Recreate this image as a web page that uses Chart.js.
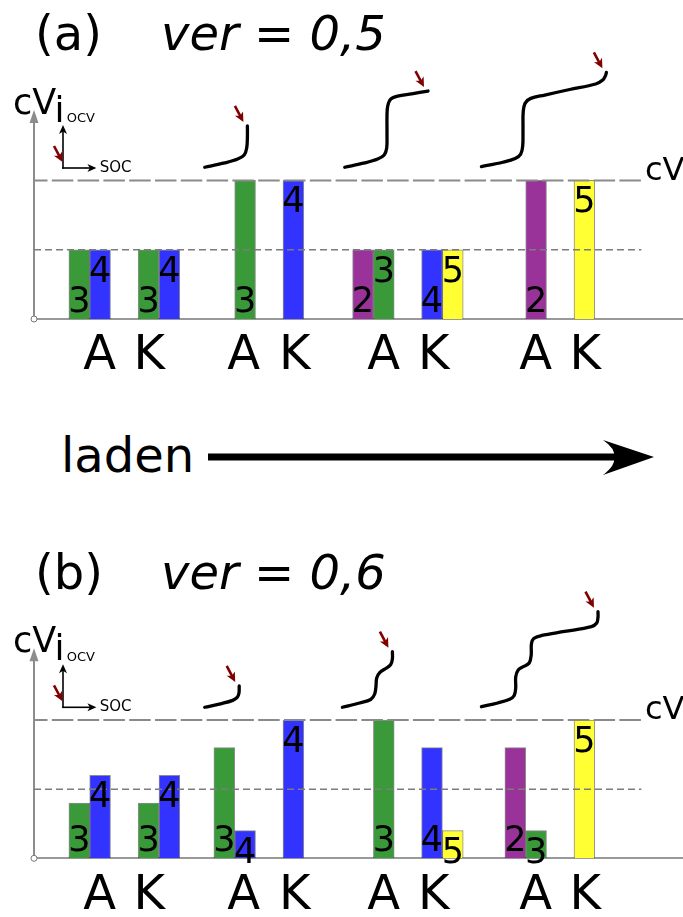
<!DOCTYPE html>
<html>
<head>
<meta charset="utf-8">
<script src="https://cdn.jsdelivr.net/npm/chart.js@4"></script>
<style>
  body { margin: 0; background: #fff; width: 683px; height: 917px; overflow: hidden; position: relative; font-family: "DejaVu Sans", sans-serif; }
  canvas { position: absolute; left: 0; }
  .txt { position: absolute; font-size: 48px; line-height: 48px; white-space: pre; color: #000; }
  .it { font-style: italic; }
  svg { position: absolute; left: 0; top: 0; }
</style>
</head>
<body>
<canvas id="chartA" width="683" height="400" style="top:0"></canvas>
<canvas id="chartB" width="683" height="377" style="top:540px"></canvas>

<div class="txt" style="left:35px;top:9px">(a)</div>
<div class="txt it" style="left:161px;top:9px">ver = 0,5</div>
<div class="txt" style="left:35px;top:548px">(b)</div>
<div class="txt it" style="left:161px;top:548px">ver = 0,6</div>
<div class="txt" style="left:61px;top:431px">laden</div>
<svg width="683" height="917">
  <line x1="208" y1="457" x2="615" y2="457" stroke="#000" stroke-width="7"/>
  <path d="M654,457 L603,440 Q616,449 614,457 Q616,465 603,475 Z" fill="#000"/>
</svg>

<script>
// categories: anode / cathode pairs, left to right while charging
const groups = ['A', 'K', 'A', 'K', 'A', 'K', 'A', 'K'];
const groupPos = [55.7, 125, 200.7, 249, 339.4, 408.4, 491.7, 540];
const tickPos = [65.7, 115.3, 209.7, 260.8, 349.7, 399.8, 501.7, 551.3];

// species shown as bars
const speciesNames = ['2', '3', '4', '5'];
const speciesColors = ['#993399', '#3a9a3a', '#3333ff', '#ffff33'];

// (a) ver = 0,5
const aLeftSpecies = ['3', '3', null, null, '2', '4', null, null];
const aLeftValues = [0.5, 0.5, null, null, 0.5, 0.5, null, null];
const aRightSpecies = ['4', '4', '3', '4', '3', '5', '2', '5'];
const aRightValues = [0.5, 0.5, 1, 1, 0.5, 0.5, 1, 1];

// (b) ver = 0,6
const bLeftSpecies = ['3', '3', '3', null, null, '4', '2', null];
const bLeftValues = [0.4, 0.4, 0.8, null, null, 0.8, 0.8, null];
const bRightSpecies = ['4', '4', '4', '4', '3', '5', '3', '5'];
const bRightValues = [0.6, 0.6, 0.2, 1, 1, 0.2, 0.2, 1];

// reference levels (cV and half of it)
const refLevels = [1, 0.5];
const refEnd = 607.4;

// OCV sketches above the bars, [soc position, level]
const ocvA1 = [[170.7, 1.095], [190.7, 1.126], [203.7, 1.154], [210.2, 1.183], [212.7, 1.234], [213.4, 1.313], [213.4, 1.393]];
const ocvA2 = [[310.7, 1.095], [330.7, 1.126], [343.7, 1.154], [350.2, 1.183], [352.7, 1.234], [353, 1.328], [353, 1.472], [353.7, 1.537], [356.7, 1.587], [363.7, 1.609], [377.7, 1.625], [394, 1.645]];
const ocvA3 = [[447.4, 1.099], [468.7, 1.131], [481.2, 1.158], [486.7, 1.19], [488.7, 1.248], [489, 1.364], [489.2, 1.494], [491.2, 1.558], [496.7, 1.592], [510.7, 1.616], [535.7, 1.656], [561.7, 1.696], [568.7, 1.724], [571.7, 1.76], [572.4, 1.78]];
const ocvB1 = [[170.7, 1.092], [187.7, 1.119], [198.7, 1.142], [203.2, 1.163], [205, 1.195], [205.2, 1.246]];
const ocvB2 = [[308.4, 1.092], [325.7, 1.123], [336.7, 1.148], [340.7, 1.188], [342, 1.246], [342.7, 1.304], [345.7, 1.343], [351.7, 1.372], [356.7, 1.401], [358.4, 1.441], [358.4, 1.494]];
const ocvB3 = [[447.4, 1.096], [463.7, 1.123], [475.7, 1.15], [480.2, 1.177], [481.7, 1.231], [481.7, 1.311], [484.2, 1.362], [489.7, 1.387], [495.2, 1.412], [497.2, 1.47], [497.4, 1.55], [499.7, 1.589], [507.7, 1.611], [530.7, 1.64], [557.4, 1.675], [562.7, 1.701], [564, 1.745], [564, 1.783]];

const BAR = 20.8;
const FONT = '"DejaVu Sans", sans-serif';

function barSets(leftS, leftV, rightS, rightV) {
    return speciesNames.map((s, k) => {
        const data = [];
        groups.forEach((g, i) => {
            if (leftS[i] === s) data.push({ x: groupPos[i] - BAR / 2, y: leftV[i], pos: 'bottom' });
            if (rightS[i] === s) {
                const pos = leftS[i] ? 'top' : (g === 'A' ? 'bottom' : 'top');
                data.push({ x: groupPos[i] + BAR / 2, y: rightV[i], pos: pos });
            }
        });
        return {
            type: 'bar', label: s, data: data,
            backgroundColor: speciesColors[k],
            borderColor: 'rgba(0,0,0,0.45)', borderWidth: 1,
            barThickness: BAR, grouped: false, order: 2
        };
    });
}

function curveSet(pts) {
    return {
        type: 'line', isCurve: true,
        data: pts.map(p => ({ x: p[0], y: p[1] })),
        borderColor: '#000', borderWidth: 3.3, pointRadius: 0, tension: 0.35,
        borderCapStyle: 'round', borderJoinStyle: 'round', clip: false, order: 1
    };
}

function refSet(level, k) {
    return {
        type: 'line',
        data: [{ x: 0, y: level }, { x: refEnd, y: level }],
        borderColor: k ? '#7c7c7c' : '#8a8a8a', borderWidth: k ? 1.5 : 2,
        borderDash: k ? [7, 4] : [21.5, 4.3], borderDashOffset: k ? 0 : 8,
        pointRadius: 0, order: 0
    };
}

function redArrow(ctx, tx, ty) {
    const sx = tx - 8.5, sy = ty - 16;
    const ang = Math.atan2(ty - sy, tx - sx);
    const c = Math.cos(ang), s = Math.sin(ang);
    ctx.save();
    ctx.strokeStyle = '#800000';
    ctx.fillStyle = '#800000';
    ctx.lineWidth = 2.6;
    ctx.beginPath();
    ctx.moveTo(sx, sy);
    ctx.lineTo(tx - 6 * c, ty - 6 * s);
    ctx.stroke();
    ctx.beginPath();
    ctx.moveTo(tx, ty);
    ctx.lineTo(tx - 9.5 * c + 4.6 * s, ty - 9.5 * s - 4.6 * c);
    ctx.lineTo(tx - 7 * c, ty - 7 * s);
    ctx.lineTo(tx - 9.5 * c - 4.6 * s, ty - 9.5 * s + 4.6 * c);
    ctx.closePath();
    ctx.fill();
    ctx.restore();
}

function blackArrow(ctx, x1, y1, x2, y2) {
    const ang = Math.atan2(y2 - y1, x2 - x1);
    ctx.beginPath();
    ctx.moveTo(x1, y1);
    ctx.lineTo(x2 - 5 * Math.cos(ang), y2 - 5 * Math.sin(ang));
    ctx.stroke();
    ctx.beginPath();
    ctx.moveTo(x2, y2);
    ctx.lineTo(x2 - 9 * Math.cos(ang) + 4 * Math.sin(ang), y2 - 9 * Math.sin(ang) - 4 * Math.cos(ang));
    ctx.lineTo(x2 - 6.5 * Math.cos(ang), y2 - 6.5 * Math.sin(ang));
    ctx.lineTo(x2 - 9 * Math.cos(ang) - 4 * Math.sin(ang), y2 - 9 * Math.sin(ang) + 4 * Math.cos(ang));
    ctx.closePath();
    ctx.fill();
}

const decor = {
    id: 'decor',
    afterDraw(chart) {
        const ctx = chart.ctx;
        const area = chart.chartArea;
        const xs = chart.scales.x, ys = chart.scales.y;

        // arrow head on the y axis and origin circle
        ctx.save();
        ctx.fillStyle = '#8c8c8c';
        ctx.beginPath();
        ctx.moveTo(area.left, area.top - 10);
        ctx.lineTo(area.left - 4.5, area.top + 3);
        ctx.lineTo(area.left + 4.5, area.top + 3);
        ctx.closePath();
        ctx.fill();
        ctx.strokeStyle = '#777';
        ctx.fillStyle = '#fff';
        ctx.lineWidth = 1;
        ctx.beginPath();
        ctx.arc(area.left, area.bottom, 3, 0, Math.PI * 2);
        ctx.fill();
        ctx.stroke();

        // y axis label cV_i
        ctx.fillStyle = '#000';
        ctx.textAlign = 'left';
        ctx.textBaseline = 'alphabetic';
        ctx.font = '35px ' + FONT;
        ctx.fillText('cV', 13, area.top - 6);
        ctx.font = '36px ' + FONT;
        ctx.fillText('i', 54.5, area.top + 2);

        // small OCV / SOC inset
        const ox = area.left + 29, oy = area.bottom - 151;
        ctx.strokeStyle = '#000';
        ctx.fillStyle = '#000';
        ctx.lineWidth = 1.6;
        blackArrow(ctx, ox, oy + 0.8, ox, oy - 43);
        blackArrow(ctx, ox - 0.8, oy, ox + 33.4, oy);
        ctx.font = '13px ' + FONT;
        ctx.fillText('OCV', ox + 3.7, oy - 46);
        ctx.font = '15px ' + FONT;
        ctx.fillText('SOC', ox + 36.7, oy + 3.7);
        redArrow(ctx, ox - 0.5, oy - 6);

        // label at the end of the cV line
        ctx.fillStyle = '#000';
        ctx.font = '32px ' + FONT;
        ctx.fillText('cV', xs.getPixelForValue(refEnd) + 3.5, ys.getPixelForValue(1) - 0.5);

        // species numbers on the bars and markers on the OCV sketches
        chart.data.datasets.forEach((ds, i) => {
            const meta = chart.getDatasetMeta(i);
            if (ds.type === 'bar') {
                ctx.font = '35px ' + FONT;
                ctx.textAlign = 'center';
                meta.data.forEach((el, j) => {
                    const raw = ds.data[j];
                    const yTxt = raw.pos === 'top' ? el.y + 32 : el.base - 7.5;
                    ctx.fillText(ds.label, el.x, yTxt);
                });
            } else if (ds.isCurve) {
                const last = meta.data[meta.data.length - 1];
                redArrow(ctx, last.x - 4, last.y - 4);
            }
        });
        ctx.restore();
    }
};

function makeChart(id, bars, curves, yMax, padTop, axisH) {
    return new Chart(document.getElementById(id), {
        type: 'bar',
        data: { datasets: [...refLevels.map(refSet), ...curves.map(curveSet), ...bars] },
        options: {
            responsive: false,
            animation: false,
            devicePixelRatio: 1,
            layout: { padding: { top: padTop, left: 0, right: 0, bottom: 0 } },
            plugins: { legend: { display: false }, tooltip: { enabled: false } },
            scales: {
                x: {
                    type: 'linear', min: 0, max: 649, offset: false,
                    grid: { display: false, drawTicks: false },
                    border: { color: '#999', width: 2 },
                    afterBuildTicks: s => { s.ticks = tickPos.map(v => ({ value: v })); },
                    afterFit: s => { s.height = axisH; },
                    ticks: {
                        autoSkip: false, maxRotation: 0, padding: 9, color: '#000',
                        font: { family: 'DejaVu Sans', size: 48 },
                        callback: (v, i) => groups[i]
                    }
                },
                y: {
                    min: 0, max: yMax,
                    grid: { display: false, drawTicks: false },
                    border: { color: '#8c8c8c', width: 2 },
                    ticks: { display: false },
                    afterFit: s => { s.width = 34; }
                }
            }
        },
        plugins: [decor]
    });
}

makeChart('chartA', barSets(aLeftSpecies, aLeftValues, aRightSpecies, aRightValues),
    [ocvA1, ocvA2, ocvA3], 1.436, 120, 81);
makeChart('chartB', barSets(bLeftSpecies, bLeftValues, bRightSpecies, bRightValues),
    [ocvB1, ocvB2, ocvB3], 1.446, 118.3, 58.7);
</script>
</body>
</html>
